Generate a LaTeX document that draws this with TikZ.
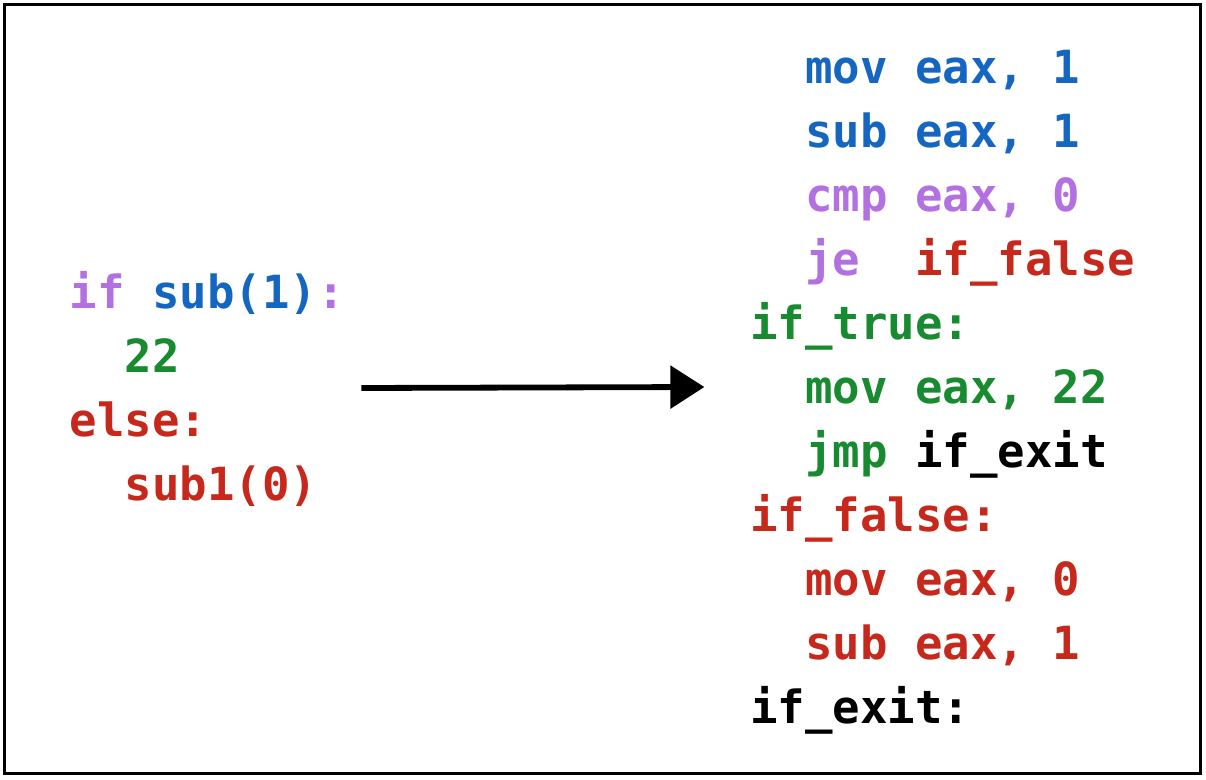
\documentclass[tikz,border=0pt]{standalone}
\usepackage{fontspec}
\setmonofont{DejaVu Sans Mono}
\usetikzlibrary{arrows.meta}
\definecolor{kw}{HTML}{B370E0}
\definecolor{fn}{HTML}{1466C0}
\definecolor{tr}{HTML}{188A30}
\definecolor{fl}{HTML}{C6281C}

\begin{document}
\begin{tikzpicture}[x=0.5pt, y=-0.5pt, every node/.style={anchor=base west, inner sep=0pt, font=\fontsize{22.84}{32}\selectfont\ttfamily\bfseries}]
	\useasboundingbox (0, 0) rectangle (1206, 780);
	\draw[line width=1.5pt] (4.5, 4.5) rectangle (1200.5, 773.5);
	\node[text=kw] (0) at (69.5, 309) {if \textcolor{fn}{sub(1)}:};
	\node[text=tr] (1) at (124.5, 373) {22};
	\node[text=fl] (2) at (69.5, 437) {else:};
	\node[text=fl] (3) at (124.5, 501) {sub1(0)};
	\node[text=fn] (4) at (805, 84) {mov eax, 1};
	\node[text=fn] (5) at (805, 148) {sub eax, 1};
	\node[text=kw] (6) at (805, 212) {cmp eax, 0};
	\node[text=kw] (7) at (805, 276) {je\ \ \textcolor{fl}{if\_false}};
	\node[text=tr] (8) at (750, 340) {if\_true:};
	\node[text=tr] (9) at (805, 404) {mov eax, 22};
	\node[text=tr] (10) at (805, 468) {jmp \textcolor{black}{if\_exit}};
	\node[text=fl] (11) at (750, 532) {if\_false:};
	\node[text=fl] (12) at (805, 596) {mov eax, 0};
	\node[text=fl] (13) at (805, 660) {sub eax, 1};
	\node (14) at (750, 724) {if\_exit:};
	\node (15) at (360, 388) {};
	\node (16) at (703, 387) {};
	\draw[line width=2.9pt, -{Triangle[length=17pt, width=21pt]}] (15.center) to (16.center);
\end{tikzpicture}
\end{document}
